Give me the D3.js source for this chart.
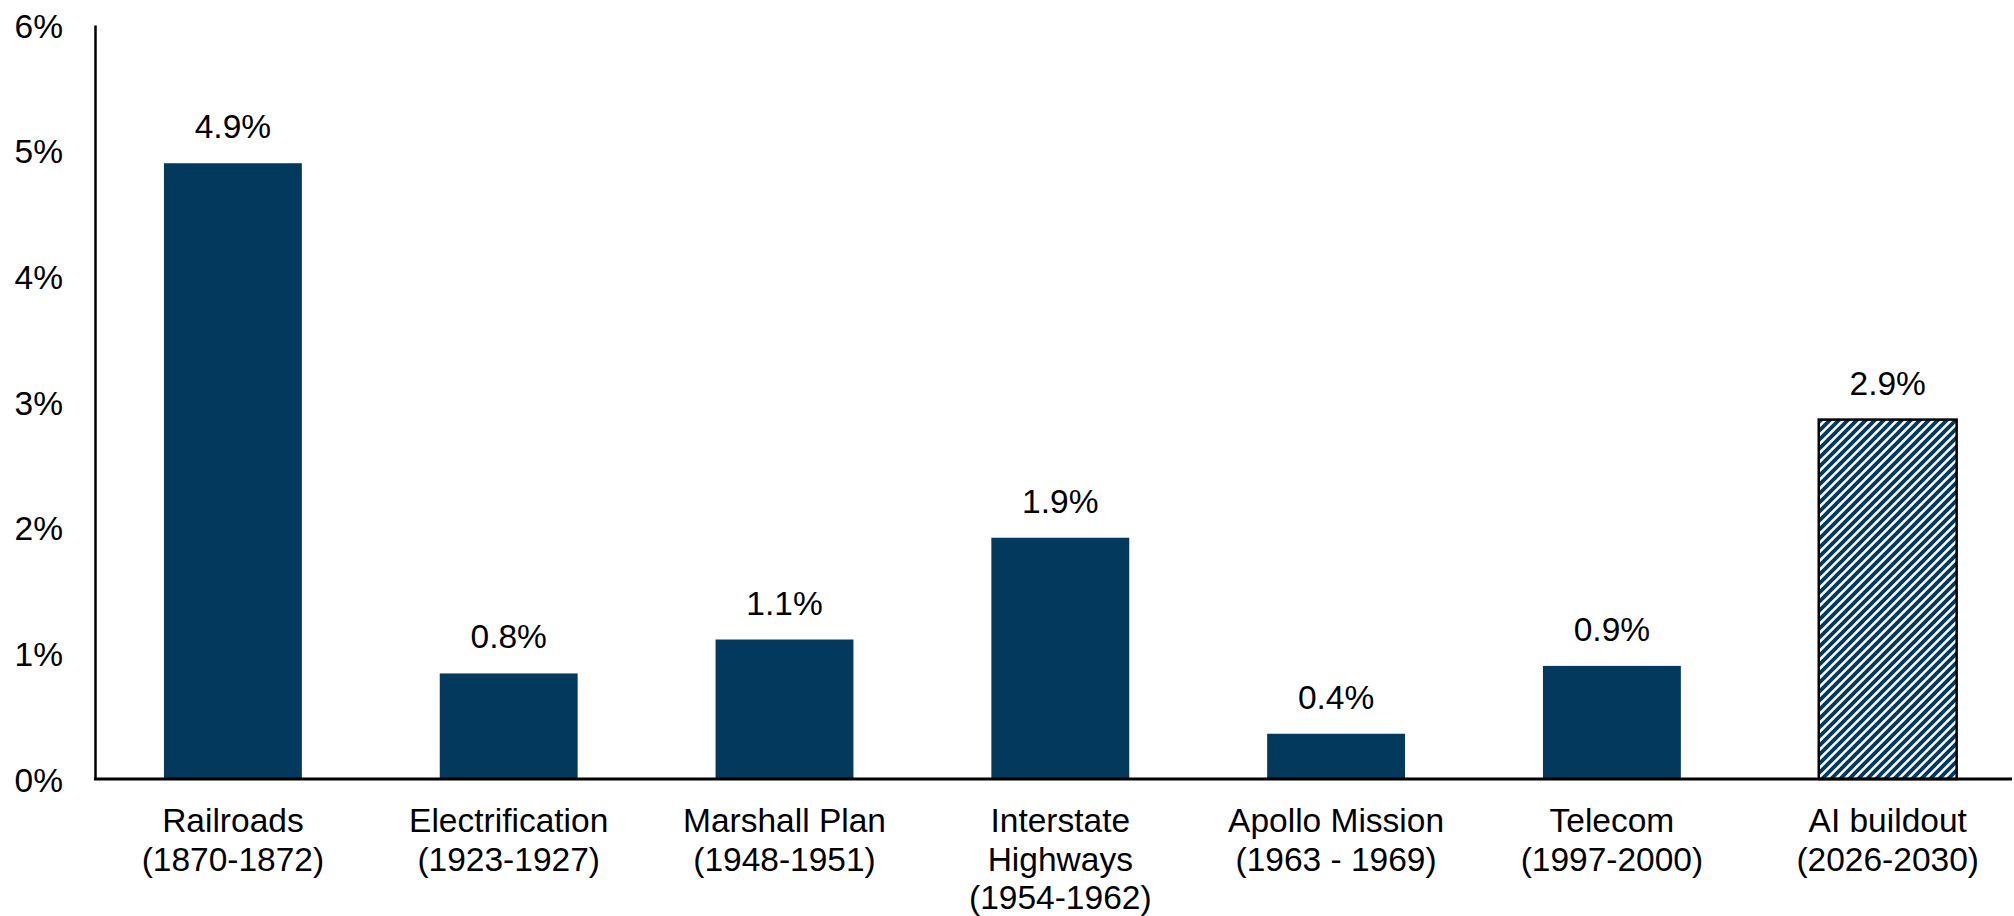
<!DOCTYPE html>
<html>
<head>
<meta charset="utf-8">
<script src="https://cdn.jsdelivr.net/npm/d3@7"></script>
<style>
	body{margin:0;background:#fff;}
	svg{display:block;font-family:"Liberation Sans",Arial,sans-serif;}
</style>
</head>
<body>
<svg id="chart"></svg>
<script>
// data
const categories = [
	['Railroads','(1870-1872)'],
	['Electrification','(1923-1927)'],
	['Marshall Plan','(1948-1951)'],
	['Interstate','Highways','(1954-1962)'],
	['Apollo Mission','(1963 - 1969)'],
	['Telecom','(1997-2000)'],
	['AI buildout','(2026-2030)']
];
const values = [4.9, 0.84, 1.11, 1.92, 0.36, 0.9, 2.86];
const valueLabels = ['4.9%','0.8%','1.1%','1.9%','0.4%','0.9%','2.9%'];
const projected = [false,false,false,false,false,false,true];
const yTicks = [0,1,2,3,4,5,6];

const W = 2014, H = 916;
const mLeft = 95, mTop = 25, mBottom = 779;
const bandW = 275.8;
const fs = 33.5;

const svg = d3.select('#chart')
	.attr('width',W)
	.attr('height',H);

const navy = '#04395e';

// hatch for the projected bar
const pat = svg.append('defs').append('pattern')
	.attr('id','hatch')
	.attr('patternUnits','userSpaceOnUse')
	.attr('width',9)
	.attr('height',9);
pat.append('rect').attr('width',9).attr('height',9).attr('fill','#fff');
pat.append('path')
	.attr('d','M-3,3 L3,-3 M0,9 L9,0 M6,12 L12,6')
	.attr('stroke',navy)
	.attr('stroke-width',3.8);

const x = d3.scaleBand()
	.domain(d3.range(categories.length))
	.range([mLeft, mLeft + bandW*categories.length])
	.paddingInner(0.5)
	.paddingOuter(0.25);

const y = d3.scaleLinear()
	.domain([0,6])
	.range([mBottom, mTop]);

// y axis
const yAxis = svg.append('g')
	.attr('transform','translate('+mLeft+',0)')
	.call(d3.axisLeft(y).tickValues(yTicks).tickSize(0).tickPadding(32).tickFormat(d=>d+'%'));
yAxis.select('.domain').attr('stroke','#000').attr('stroke-width',2.5);
yAxis.selectAll('text')
	.attr('font-size',fs)
	.attr('fill','#000')
	.attr('font-family','"Liberation Sans",Arial,sans-serif')
	.attr('dy','0.36em');

// bars
svg.selectAll('rect.bar')
	.data(values)
	.join('rect')
		.classed('bar',true)
		.attr('x',(d,i)=>x(i))
		.attr('width',x.bandwidth())
		.attr('y',d=>y(d))
		.attr('height',d=>y(0)-y(d))
		.attr('fill',(d,i)=>projected[i] ? 'url(#hatch)' : navy)
		.attr('stroke',(d,i)=>projected[i] ? '#000' : 'none')
		.attr('stroke-width',2.5);

// x axis line
svg.append('line')
	.attr('x1',mLeft-1)
	.attr('x2',2012)
	.attr('y1',y(0))
	.attr('y2',y(0))
	.attr('stroke','#000')
	.attr('stroke-width',3);

// value labels
svg.selectAll('text.val')
	.data(values)
	.join('text')
		.classed('val',true)
		.attr('x',(d,i)=>x(i)+x.bandwidth()/2)
		.attr('y',d=>y(d)-25)
		.attr('text-anchor','middle')
		.attr('font-size',fs)
		.attr('fill','#000')
		.text((d,i)=>valueLabels[i]);

// category labels
const cat = svg.selectAll('text.cat')
	.data(categories)
	.join('text')
		.classed('cat',true)
		.attr('x',(d,i)=>x(i)+x.bandwidth()/2)
		.attr('y',y(0)+53)
		.attr('text-anchor','middle')
		.attr('font-size',fs)
		.attr('fill','#000');
cat.selectAll('tspan')
	.data(d=>d)
	.join('tspan')
		.attr('x',function(){ return d3.select(this.parentNode).attr('x'); })
		.attr('dy',(d,i)=>i==0 ? 0 : 38.5)
		.text(d=>d);
</script>
</body>
</html>
